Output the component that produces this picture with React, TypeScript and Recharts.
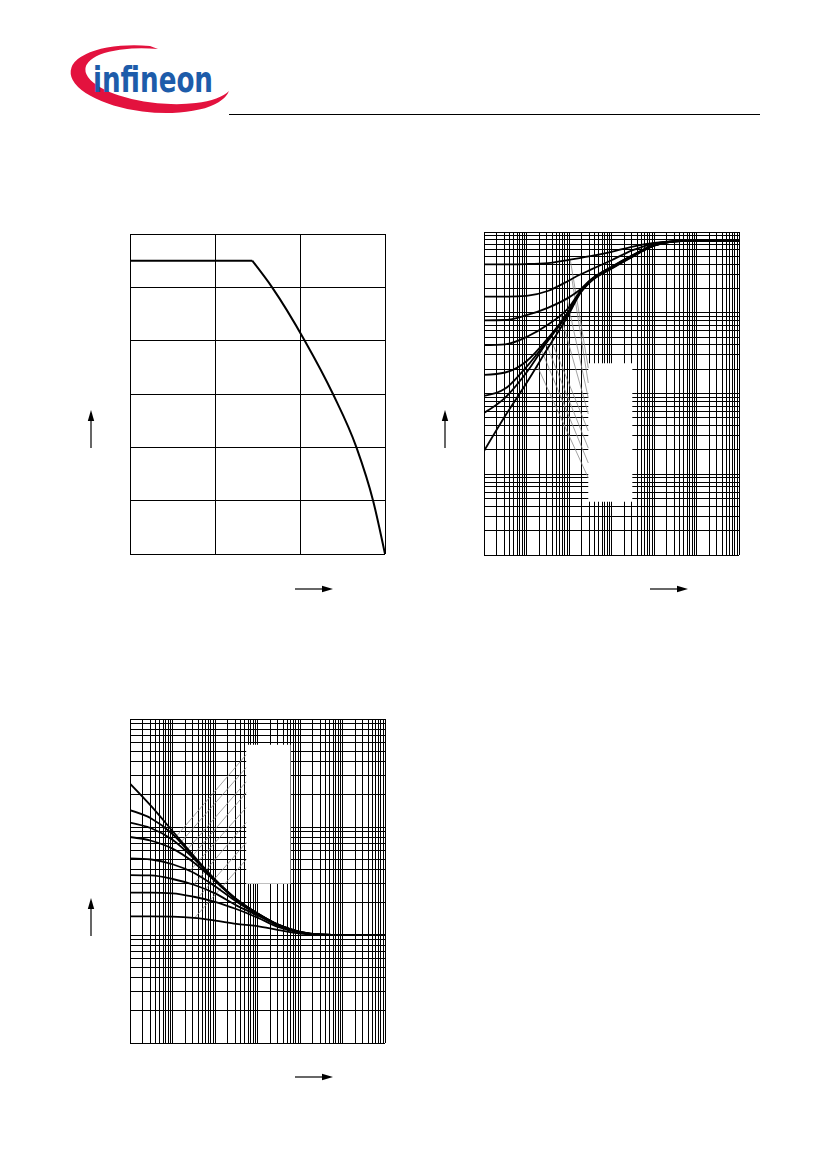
import React from "react";
import { LineChart, Line, XAxis, YAxis, CartesianGrid, ReferenceArea, ReferenceLine } from "recharts";

// --- chart 1: power dissipation vs temperature ---
const TEMP = [0, 71.9, 83.6, 102.8, 119.4, 133.2, 143, 150];
const PTOT = [275, 275, 250, 200, 150, 100, 50, 0];
const KNEE = 1; // index where the derating curve starts
const TEMP_TICKS = [0, 50, 100, 150];
const PTOT_TICKS = [0, 50, 100, 150, 200, 250, 300];

// --- chart 2: transient thermal impedance vs pulse duration, one curve per duty cycle ---
const TP_Z = [1e-6, 3.16e-6, 1e-5, 3.16e-5, 1e-4, 1.78e-4, 3.16e-4, 1e-3, 3.16e-3, 1e-2, 3.16e-2, 1e-1, 1];
const Z_D05 = [398, 398, 401, 412, 452, 475, 501, 569, 661, 733, 771, 782, 782];
const Z_D02 = [158, 158, 162, 186, 251, 295, 339, 447, 596, 719, 773, 782, 782];
const Z_D01 = [80.4, 81.3, 93.3, 115, 155, 191, 254, 372, 519, 692, 769, 780, 782];
const Z_D005 = [39.8, 40.7, 50.1, 70.8, 117, 180, 251, 367, 513, 687, 769, 780, 782];
const Z_D002 = [17.0, 18.2, 25.1, 47.9, 107, 178, 248, 363, 507, 684, 767, 780, 782];
const Z_D001 = [9.33, 11.5, 21.4, 45.7, 105, 176, 245, 359, 504, 682, 766, 780, 782];
const Z_D0005 = [5.75, 8.91, 18.2, 44.7, 102, 174, 243, 355, 501, 679, 764, 780, 782];
const Z_D0 = [1.94, 5.3, 13.5, 36.3, 96.6, 170, 240, 351, 495, 676, 762, 780, 782];
// blank legend box + leader lines [curve point, box edge]
const Z_BOX = { x1: 2.84e-4, x2: 3.09e-3, y1: 0.457, y2: 23.7 };
const Z_LEADERS = [
  [1.07e-4, 455, 2.84e-4, 20.7],
  [1.17e-4, 263, 2.84e-4, 13.5],
  [8.9e-5, 150, 2.84e-4, 8.8],
  [6.3e-5, 95.5, 2.84e-4, 5.58],
  [3.55e-5, 50, 2.84e-4, 3.44],
  [2.82e-5, 42.7, 2.84e-4, 2.11],
  [2.24e-5, 34.7, 2.84e-4, 1.38],
  [1.78e-5, 22.1, 2.84e-4, 0.9],
];

// --- chart 3: permissible pulse load ratio vs pulse duration ---
const TP_P = [1e-6, 3.16e-6, 1e-5, 3.16e-5, 1e-4, 3.16e-4, 1e-3, 3.16e-3, 1e-2, 3.16e-2, 1e-1, 1];
const P_D0 = [25.2, 15.6, 9.18, 5.41, 3.27, 2.16, 1.59, 1.24, 1.07, 1.01, 1.0, 1.0];
const P_D0005 = [14.3, 12.0, 8.61, 5.25, 3.24, 2.15, 1.585, 1.24, 1.07, 1.01, 1.0, 1.0];
const P_D001 = [11.0, 9.73, 7.62, 5.11, 3.2, 2.13, 1.58, 1.24, 1.07, 1.01, 1.0, 1.0];
const P_D002 = [8.08, 7.46, 6.3, 4.7, 3.16, 2.11, 1.57, 1.23, 1.06, 1.01, 1.0, 1.0];
const P_D005 = [5.13, 5.0, 4.52, 3.77, 2.83, 2.04, 1.55, 1.22, 1.06, 1.01, 1.0, 1.0];
const P_D01 = [3.59, 3.56, 3.3, 2.92, 2.43, 1.88, 1.52, 1.22, 1.06, 1.01, 1.0, 1.0];
const P_D02 = [2.47, 2.47, 2.43, 2.26, 2.03, 1.74, 1.45, 1.18, 1.05, 1.01, 1.0, 1.0];
const P_D05 = [1.49, 1.49, 1.48, 1.44, 1.36, 1.27, 1.21, 1.11, 1.03, 1.0, 1.0, 1.0];
const P_BOX = { x1: 5.42e-4, x2: 5.97e-3, y1: 2.99, y2: 57.8 };
const P_LEADERS = [
  [1.26e-5, 8.3, 5.42e-4, 46.7],
  [1.58e-5, 7.24, 5.42e-4, 35.4],
  [2.09e-5, 6.0, 5.42e-4, 26.2],
  [2.51e-5, 5.0, 5.42e-4, 20.8],
  [2.51e-5, 3.89, 5.42e-4, 15.1],
  [3.16e-5, 2.92, 5.42e-4, 11.0],
  [3.98e-5, 2.21, 5.42e-4, 7.16],
  [3.31e-5, 1.44, 5.42e-4, 4.98],
];

const MANTISSA = [1, 2, 3, 4, 5, 6, 7, 8, 9];
const logTicks = (lo: number, hi: number) => {
  const t: number[] = [];
  for (let e = lo; e < hi; e++) MANTISSA.forEach((m) => t.push(m * Math.pow(10, e)));
  t.push(Math.pow(10, hi));
  return t;
};

const M = 2;
const GRID = { stroke: "#000", strokeWidth: 1 };
const CSS = ".recharts-cartesian-grid line { shape-rendering: crispEdges; }";

function Arrow({ x, y, dir, len = 38 }: { x: number; y: number; dir: "up" | "right"; len?: number }) {
  const up = dir === "up";
  return (
    <svg style={{ position: "absolute", left: up ? x - 5 : x, top: up ? y - len : y - 5 }} width={up ? 10 : len} height={up ? len : 10}>
      {up ? (
        <>
          <line x1={5} y1={len} x2={5} y2={9} stroke="#000" strokeWidth={1.2} />
          <polygon points={`5,0 1.8,11 8.2,11`} fill="#000" />
        </>
      ) : (
        <>
          <line x1={0} y1={5} x2={len - 9} y2={5} stroke="#000" strokeWidth={1.2} />
          <polygon points={`${len},5 ${len - 11},1.8 ${len - 11},8.2`} fill="#000" />
        </>
      )}
    </svg>
  );
}

function Logo() {
  return (
    <svg style={{ position: "absolute", left: 0, top: 0 }} width={826} height={130}>
      <path d="M150 46 A80 33 6 1 0 229 91 A74 27 6 1 1 158 49 Z" fill="#e3123e" />
      <text x={93} y={92} fontFamily="'DejaVu Sans Condensed', 'Liberation Sans Narrow', 'DejaVu Sans', sans-serif" fontWeight="bold" fontSize={35} fill="#1d5caa" textLength={120} lengthAdjust="spacingAndGlyphs">
        infineon
      </text>
      <line x1={229} y1={114.5} x2={760} y2={114.5} stroke="#000" strokeWidth={1} />
    </svg>
  );
}

function PowerChart() {
  const data = TEMP.map((t, i) => ({
    t,
    flat: i <= KNEE ? PTOT[i] : undefined,
    derate: i >= KNEE ? PTOT[i] : undefined,
  }));
  return (
    <div style={{ position: "absolute", left: 130 - M, top: 234 - M }}>
      <LineChart width={255 + 2 * M} height={320 + 2 * M} data={data} margin={{ top: M, right: M, bottom: M, left: M }}>
        <CartesianGrid {...GRID} />
        <XAxis dataKey="t" type="number" domain={[0, 150]} ticks={TEMP_TICKS} interval={0} hide />
        <YAxis type="number" domain={[0, 300]} ticks={PTOT_TICKS} interval={0} hide />
        <Line dataKey="flat" type="linear" stroke="#000" strokeWidth={2} dot={false} isAnimationActive={false} />
        <Line dataKey="derate" type="monotone" stroke="#000" strokeWidth={2} dot={false} isAnimationActive={false} />
      </LineChart>
    </div>
  );
}

type LogProps = {
  left: number; top: number; w: number; h: number;
  tp: number[]; series: number[][]; yLo: number; yHi: number;
  box: { x1: number; x2: number; y1: number; y2: number }; leaders: number[][];
};

function LogChart({ left, top, w, h, tp, series, yLo, yHi, box, leaders }: LogProps) {
  const data = tp.map((x, i) => {
    const row: Record<string, number> = { x };
    series.forEach((s, k) => (row["s" + k] = s[i]));
    return row;
  });
  return (
    <div style={{ position: "absolute", left: left - M, top: top - M }}>
      <LineChart width={w + 2 * M} height={h + 2 * M} data={data} margin={{ top: M, right: M, bottom: M, left: M }}>
        <CartesianGrid {...GRID} />
        <XAxis dataKey="x" type="number" scale="log" domain={[1e-6, 1]} ticks={logTicks(-6, 0)} interval={0} allowDataOverflow hide />
        <YAxis type="number" scale="log" domain={[Math.pow(10, yLo), Math.pow(10, yHi)]} ticks={logTicks(yLo, yHi)} interval={0} allowDataOverflow hide />
        <ReferenceArea x1={box.x1} x2={box.x2} y1={box.y1} y2={box.y2} fill="#fff" fillOpacity={1} stroke="none" />
        {leaders.map((l, i) => (
          <ReferenceLine key={i} segment={[{ x: l[0], y: l[1] }, { x: l[2], y: l[3] }]} stroke="#8c8c8c" strokeWidth={0.8} />
        ))}
        {series.map((_, k) => (
          <Line key={k} dataKey={"s" + k} type="monotone" stroke="#000" strokeWidth={1.8} dot={false} isAnimationActive={false} />
        ))}
      </LineChart>
    </div>
  );
}

export default function App() {
  return (
    <div style={{ position: "absolute", left: 0, top: 0, width: 826, height: 1169, background: "#fff", overflow: "hidden" }}>
      <style>{CSS}</style>
      <Logo />
      <PowerChart />
      <LogChart left={484} top={232} w={255} h={323} tp={TP_Z}
        series={[Z_D05, Z_D02, Z_D01, Z_D005, Z_D002, Z_D001, Z_D0005, Z_D0]}
        yLo={-1} yHi={3} box={Z_BOX} leaders={Z_LEADERS} />
      <LogChart left={130} top={719} w={255} h={324} tp={TP_P}
        series={[P_D0, P_D0005, P_D001, P_D002, P_D005, P_D01, P_D02, P_D05]}
        yLo={-1} yHi={2} box={P_BOX} leaders={P_LEADERS} />
      <Arrow x={91} y={448} dir="up" />
      <Arrow x={445} y={448} dir="up" />
      <Arrow x={91} y={936} dir="up" />
      <Arrow x={295} y={589} dir="right" />
      <Arrow x={650} y={589} dir="right" />
      <Arrow x={295} y={1077} dir="right" />
    </div>
  );
}
